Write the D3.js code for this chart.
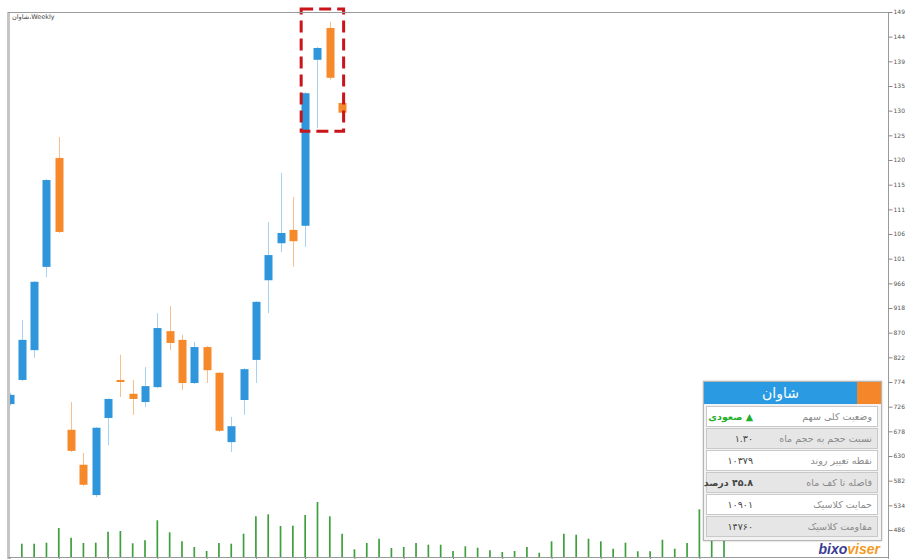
<!DOCTYPE html>
<html>
<head>
<meta charset="utf-8">
<script src="https://cdnjs.cloudflare.com/ajax/libs/d3/7.8.5/d3.min.js"></script>
<style>
  body { margin: 0; background: #fff; overflow: hidden; }
  #chart { position: relative; width: 905px; height: 559px; }
  .panel { position: absolute; left: 703px; top: 381px; width: 177px; height: 158px;
           border: 1px solid #b5b5b5; background: #f3f3f3; box-shadow: 0 0 2px rgba(0,0,0,0.25);
           font-family: "DejaVu Sans", sans-serif; }
  .head { position: absolute; left: 0; top: 0; width: 153px; height: 22px; background: #2a9be2;
          color: #fff; font-size: 14px; line-height: 22px; text-align: center; }
  .head-side { position: absolute; left: 153px; top: 0; width: 24px; height: 22px; background: #f5862a; }
  .row { position: absolute; left: 2px; width: 170px; height: 19px; border: 1px solid #c9c9c9; }
  .row .lbl { position: absolute; right: 5px; top: 0; line-height: 19px; font-size: 9.5px; color: #8a8a8a; direction: rtl; white-space: nowrap; }
  .row .val { position: absolute; left: 0; width: 46px; top: 0; line-height: 19px; font-size: 9.5px; color: #444; direction: rtl; text-align: right; white-space: nowrap; }
</style>
</head>
<body>
<div id="chart"></div>
<script>
'use strict';

// weekly candles (price)
const candleOpen  = [7310, 7780, 8360, 9980, 12100, 6810, 6130, 5540, 7040, 7780, 7510, 7350, 7640, 8730,
                     8560, 7720, 8420, 7920, 6570, 7390, 8170, 9720, 10440, 10700, 10780, 14010, 14630, 13170];
const candleHigh  = [7530, 8950, 9700, 11690, 12510, 7350, 6360, 6860, 7420, 8270, 7780, 8030, 9080, 9220,
                     8660, 8520, 8440, 7930, 7060, 8010, 9310, 10850, 11810, 11340, 13380, 14260, 14750, 13330];
const candleLow   = [7280, 7760, 8210, 9780, 10640, 6380, 5720, 5500, 6510, 7450, 7100, 7250, 7620, 8360,
                     7580, 7700, 7720, 6770, 6380, 7100, 7720, 9080, 10270, 9980, 10370, 12680, 13620, 12840];
const candleClose = [7490, 8560, 9690, 11670, 10660, 6400, 5740, 6850, 7410, 7740, 7410, 7660, 8790, 8500,
                     7720, 8420, 7970, 6790, 6880, 7990, 9300, 10210, 10640, 10480, 13360, 14240, 13660, 12980];

// volume histogram, starts at bar 1
const volumes = [13.3, 13.3, 14.3, 29, 19.3, 14, 14.3, 25.3, 26, 13.7, 16.7, 36.7, 24.7, 15.7, 10, 6, 14, 13.3,
                 23.3, 40.7, 42.7, 31, 31.3, 42, 55, 40.7, 23.3, 7.7, 14, 18.3, 9, 10, 14, 12.3, 12.3, 6, 10.7,
                 9.3, 6.7, 5, 6, 10, 4.3, 15.7, 23.3, 22.3, 18.3, 15.7, 8.3, 14.3, 5.7, 5.7, 17.3, 8.3, 14, 47.7,
                 18.3, 20];

const priceTicks = [4860, 5340, 5820, 6300, 6780, 7260, 7740, 8220, 8700, 9180, 9660, 10140, 10620, 11100,
                    11580, 12060, 12540, 13020, 13500, 13980, 14460, 14940];

const chartTitle = 'شاوان،Weekly';
const symbolName = 'شاوان';
const tableLabels = ['وضعیت کلی سهم', 'نسبت حجم به حجم ماه', 'نقطه تغییر روند', 'فاصله تا کف ماه', 'حمایت کلاسیک', 'مقاومت کلاسیک'];
const tableValues = ['▲ صعودی', '۱.۳۰', '۱۰۳۷۹', '۴۵.۸ درصد', '۱۰۹۰۱', '۱۴۷۶۰'];

// highlighted weeks (dashed box)
const boxFrom = 24, boxTo = 27, boxTop = 15000, boxBottom = 12620;

(function() {

const width = 905;
const height = 559;

const blue = '#2f96dc', blueWick = '#a7d2f1';
const orange = '#f68a2b', orangeWick = '#f8bf8d';

let x = d3.scaleLinear().domain([0, 57]).range([9.5, 711.7]);
let y = d3.scaleLinear().domain([4860, 14940]).range([530, 12]);
let yVol = d3.scaleLinear().domain([0, 60]).range([557, 497]);

let main = d3.select('#chart');

let svg = main.append('svg')
    .attr('width', width)
    .attr('height', height)
    .style('position', 'absolute')
    .style('left', 0)
    .style('top', 0);

svg.append('clipPath').attr('id', 'plot')
  .append('rect')
    .attr('x', 10).attr('y', 12)
    .attr('width', 878).attr('height', 545);

let plot = svg.append('g').attr('clip-path', 'url(#plot)');

// volume
plot.append('g').selectAll('line')
    .data(volumes).enter()
    .append('line')
    .attr('x1', (d, i) => x(i + 1))
    .attr('x2', (d, i) => x(i + 1))
    .attr('y1', yVol(0))
    .attr('y2', d => yVol(d))
    .style('stroke', '#3f9f3f')
    .style('stroke-width', 1.7);

// candles
let candles = candleOpen.map((o, i) => ({
  i: i, o: o, h: candleHigh[i], l: candleLow[i], c: candleClose[i]
}));

let cg = plot.append('g').selectAll('g')
    .data(candles).enter()
    .append('g');

cg.append('line')
    .attr('x1', d => Math.round(x(d.i)) + 0.5)
    .attr('x2', d => Math.round(x(d.i)) + 0.5)
    .attr('y1', d => y(d.h))
    .attr('y2', d => y(d.l))
    .style('stroke', d => d.c >= d.o ? blueWick : orangeWick)
    .style('stroke-width', 1);

cg.append('rect')
    .attr('x', d => Math.round(x(d.i)) - 3.5)
    .attr('width', 8)
    .attr('y', d => y(Math.max(d.o, d.c)))
    .attr('height', d => Math.max(2, Math.abs(y(d.o) - y(d.c))))
    .style('fill', d => d.c >= d.o ? blue : orange);

// dashed highlight box
svg.append('rect')
    .attr('x', x(boxFrom) - 4)
    .attr('y', y(boxTop))
    .attr('width', x(boxTo) + 1.5 - (x(boxFrom) - 4))
    .attr('height', y(boxBottom) - y(boxTop))
    .style('fill', 'none')
    .style('stroke', '#c8141a')
    .style('stroke-width', 3)
    .style('stroke-dasharray', '12,6');

// frame
svg.append('rect')
    .attr('x', 7).attr('y', 12)
    .attr('width', 3).attr('height', height - 12)
    .style('fill', '#c6c6c6');

svg.append('line')
    .attr('x1', 8).attr('x2', 888.5)
    .attr('y1', 12.5).attr('y2', 12.5)
    .style('stroke', '#9a9a9a');

svg.append('line')
    .attr('x1', 888.5).attr('x2', 888.5)
    .attr('y1', 12).attr('y2', height)
    .style('stroke', '#9a9a9a');

// price axis (labels run off the right edge, as in the source)
let yAxis = svg.append('g')
    .attr('transform', 'translate(888.5,0)')
    .call(d3.axisRight(y).tickValues(priceTicks).tickSize(4).tickPadding(1).tickFormat(d3.format('d')));

yAxis.select('.domain').remove();
yAxis.selectAll('line').style('stroke', '#888');
yAxis.selectAll('text')
    .style('font-family', 'DejaVu Sans, sans-serif')
    .style('font-size', '6px')
    .style('fill', '#555');

// bottom axis
let xAxis = svg.append('g')
    .attr('transform', 'translate(0,557.5)')
    .call(d3.axisBottom(x).tickValues(d3.range(0, 58, 4)).tickSize(3).tickFormat(''));

xAxis.select('.domain').attr('d', 'M8,0H888').style('stroke', '#9a9a9a');
xAxis.selectAll('line').style('stroke', '#888');

// title
svg.append('text')
    .attr('x', 12)
    .attr('y', 19)
    .text(chartTitle)
    .style('font-family', 'DejaVu Sans, sans-serif')
    .style('font-size', '6.5px')
    .style('fill', '#444');

// logo
let logo = svg.append('text')
    .attr('x', 880)
    .attr('y', 554)
    .style('text-anchor', 'end')
    .style('font-family', 'Liberation Sans, sans-serif')
    .style('font-size', '14px')
    .style('font-weight', 'bold')
    .style('font-style', 'italic');
logo.append('tspan').text('bixo').style('fill', '#3a3c92');
logo.append('tspan').text('viser').style('fill', '#f39a25');

// info panel
let panel = main.append('div').attr('class', 'panel');
panel.append('div').attr('class', 'head').text(symbolName);
panel.append('div').attr('class', 'head-side');

let rows = panel.selectAll('.row')
    .data(tableLabels).enter()
    .append('div')
    .attr('class', 'row')
    .style('top', (d, i) => (24 + i * 22) + 'px')
    .style('background', (d, i) => i % 2 ? '#e6e6e6' : '#fff');

rows.append('span').attr('class', 'lbl').text(d => d);
rows.append('span').attr('class', 'val')
    .text((d, i) => tableValues[i])
    .style('color', (d, i) => i === 0 ? '#1fae2b' : '#444')
    .style('font-weight', (d, i) => (i === 0 || i === 3) ? 'bold' : 'normal');

})();
</script>
</body>
</html>
